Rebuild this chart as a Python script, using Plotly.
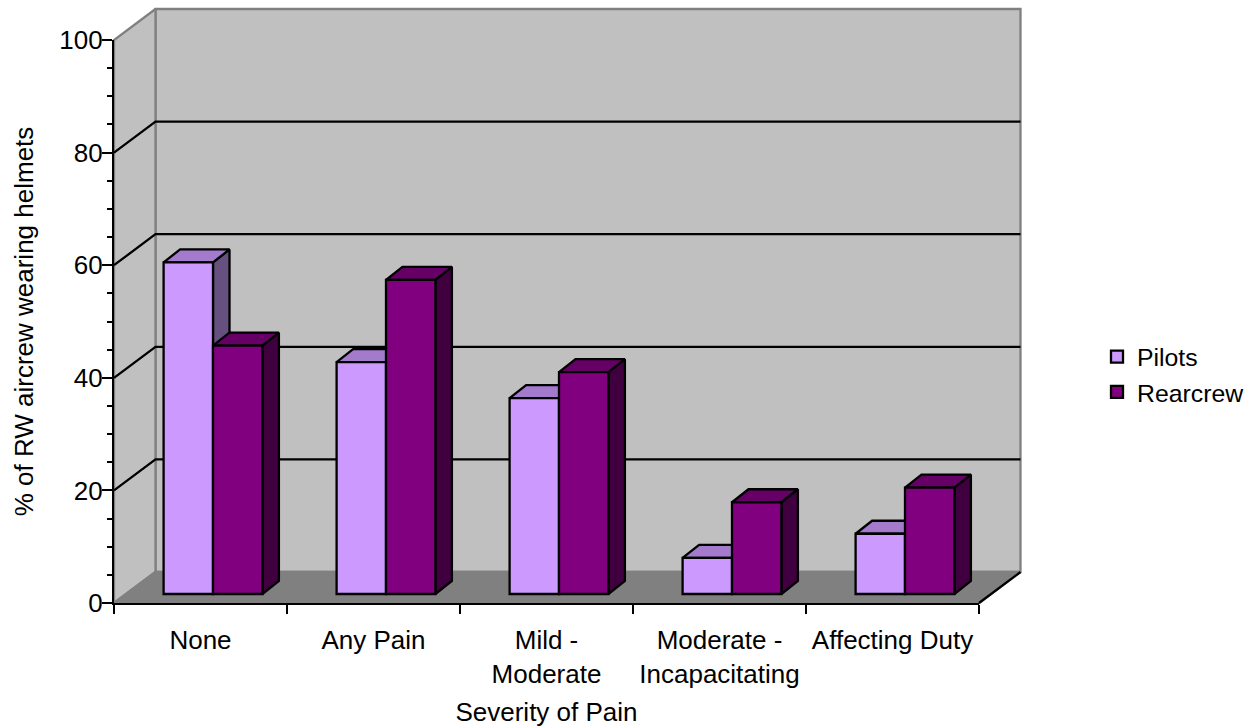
import plotly.graph_objects as go

categories = ["None", "Any Pain", "Mild -<br>Moderate", "Moderate -<br>Incapacitating", "Affecting Duty"]
pilots = [58.9, 41.2, 34.8, 6.4, 10.7]
rearcrew = [44.1, 55.8, 39.4, 16.3, 18.9]
grid_values = [20, 40, 60, 80]

W, H = 1251, 728
FONT = "Liberation Sans, Arial, sans-serif"
FS = 26
LW = 2.3

# Pixel frame of the 2-D axes
X0, X1, Y0, Y100 = 114, 979, 603, 40
CAT_PX = (X1 - X0) / len(categories)
VAL_PX = (Y0 - Y100) / 100

# Projection offsets, expressed in axis units
WALL_DX, WALL_DY = 41.5 / CAT_PX, 31 / VAL_PX
FRONT_DX, FRONT_DY = 12.5 / CAT_PX, 9 / VAL_PX
BAR_DX, BAR_DY = 16.5 / CAT_PX, 13 / VAL_PX
BAR_W = 49.4 / CAT_PX

L, R = -0.5, len(categories) - 0.5

PILOT = dict(front="#CC99FF", top="#A37ACC", side="#665080")
REAR = dict(front="#800080", top="#660066", side="#400040")


def xfrac(px):
    return px / W


def yfrac(px):
    return 1 - px / H


def poly(xs, ys, fill, line="black", width=LW):
    return go.Scatter(
        x=list(xs) + [xs[0]], y=list(ys) + [ys[0]], mode="lines", fill="toself",
        fillcolor=fill, line=dict(color=line, width=width), hoverinfo="skip",
        showlegend=False, xaxis="x", yaxis="y",
    )


def seg(xs, ys, color="black", width=LW):
    return go.Scatter(
        x=xs, y=ys, mode="lines", line=dict(color=color, width=width),
        hoverinfo="skip", showlegend=False, xaxis="x", yaxis="y",
    )


fig = go.Figure()

# Walls and floor
fig.add_trace(poly([L + WALL_DX, R + WALL_DX, R + WALL_DX, L + WALL_DX],
                   [WALL_DY, WALL_DY, 100 + WALL_DY, 100 + WALL_DY], "#C0C0C0", "#808080"))
fig.add_trace(poly([L, L + WALL_DX, L + WALL_DX, L],
                   [0, WALL_DY, 100 + WALL_DY, 100], "#C0C0C0", "#808080"))
fig.add_trace(poly([L, L + WALL_DX, R + WALL_DX, R],
                   [0, WALL_DY, WALL_DY, 0], "#808080", "#808080"))
fig.add_trace(seg([R, R + WALL_DX], [0, WALL_DY]))
for g in grid_values:
    fig.add_trace(seg([L, L + WALL_DX, R + WALL_DX], [g, g + WALL_DY, g + WALL_DY]))

# Tops and sides of the bars
bar_x = {"p": [], "r": []}
for i in range(len(categories)):
    cx = i + FRONT_DX
    for key, val, col, x_left in (("p", pilots[i], PILOT, cx - BAR_W),
                                  ("r", rearcrew[i], REAR, cx)):
        bar_x[key].append(x_left + BAR_W / 2)
        x_right = x_left + BAR_W
        top = FRONT_DY + val
        fig.add_trace(poly([x_right, x_right + BAR_DX, x_right + BAR_DX, x_right],
                           [FRONT_DY, FRONT_DY + BAR_DY, top + BAR_DY, top], col["side"]))
        fig.add_trace(poly([x_left, x_left + BAR_DX, x_right + BAR_DX, x_right],
                           [top, top + BAR_DY, top + BAR_DY, top], col["top"]))

# Front faces
for name, vals, xs, col in (("Pilots", pilots, bar_x["p"], PILOT),
                            ("Rearcrew", rearcrew, bar_x["r"], REAR)):
    fig.add_trace(go.Bar(
        name=name, x=xs, y=vals, base=FRONT_DY, width=BAR_W, legendgroup=name,
        marker=dict(color=col["front"], line=dict(color="black", width=LW)),
        xaxis="x2", yaxis="y2", hoverinfo="skip",
    ))

# Carrier of the visible axes
fig.add_trace(go.Scatter(
    x=categories, y=[0] * len(categories), mode="markers", marker=dict(opacity=0),
    xaxis="x3", yaxis="y3", showlegend=False, hoverinfo="skip",
))

PX_L, PX_R, PX_T, PX_B = 110, 1026, 4, 608
x_rng = [(PX_L - X0) / CAT_PX - 0.5, (PX_R - X0) / CAT_PX - 0.5]
y_rng = [(Y0 - PX_B) / VAL_PX, (Y0 - PX_T) / VAL_PX]
hidden = dict(visible=False, fixedrange=True, automargin=False)

fig.update_layout(
    template="none",
    width=W, height=H, autosize=False,
    margin=dict(l=0, r=0, t=0, b=0),
    paper_bgcolor="white", plot_bgcolor="rgba(0,0,0,0)",
    font=dict(family=FONT, size=FS, color="black"),
    barmode="overlay", hovermode=False,
    xaxis=dict(domain=[xfrac(PX_L), xfrac(PX_R)], range=x_rng, anchor="y", **hidden),
    yaxis=dict(domain=[yfrac(PX_B), yfrac(PX_T)], range=y_rng, anchor="x", **hidden),
    xaxis2=dict(domain=[xfrac(PX_L), xfrac(PX_R)], range=x_rng, anchor="y2", overlaying="x", **hidden),
    yaxis2=dict(domain=[yfrac(PX_B), yfrac(PX_T)], range=y_rng, anchor="x2", overlaying="y", **hidden),
    xaxis3=dict(
        domain=[xfrac(X0), xfrac(X1)], anchor="y3", type="category", range=[L, R],
        categoryorder="array", categoryarray=categories, tickson="boundaries",
        showline=True, linecolor="black", linewidth=LW, ticks="outside", ticklen=9,
        tickwidth=LW, tickcolor="black", showgrid=False, zeroline=False, automargin=False,
        tickangle=0, ticklabelstandoff=13, tickfont=dict(size=FS),
        title=dict(text="Severity of Pain", font=dict(size=FS), standoff=15),
    ),
    yaxis3=dict(
        domain=[yfrac(Y0), yfrac(Y100)], anchor="x3", range=[0, 100], dtick=20,
        showline=True, linecolor="black", linewidth=LW, ticks="outside", ticklen=10,
        tickwidth=LW, tickcolor="black", showgrid=False, zeroline=False, automargin=False,
        ticklabelstandoff=-6,
        minor=dict(dtick=5, ticks="outside", ticklen=5, tickwidth=LW, tickcolor="black", showgrid=False),
        tickfont=dict(size=FS),
        title=dict(text="% of RW aircrew wearing helmets", font=dict(size=FS), standoff=18),
    ),
    legend=dict(x=xfrac(1097), y=yfrac(334),
                xanchor="left", yanchor="top", font=dict(size=24.8), tracegroupgap=9,
                bgcolor="rgba(0,0,0,0)", traceorder="normal", itemwidth=30),
)

fig.write_html("out.html", config=dict(displayModeBar=False),
               post_script="document.body.style.margin='0';")
